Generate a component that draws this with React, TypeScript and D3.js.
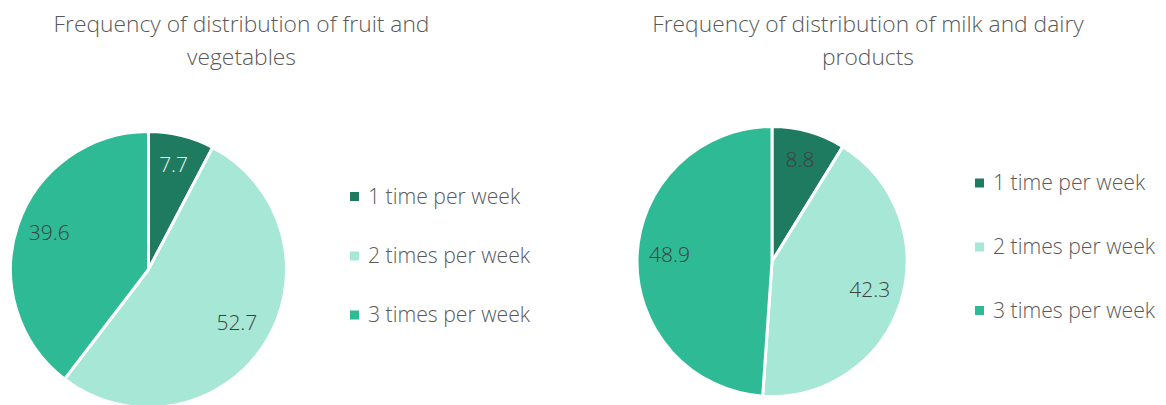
import React from "react";
import * as d3 from "d3";

const categories = ["1 time per week", "2 times per week", "3 times per week"];
const fruitValues = [7.7, 52.7, 39.6];
const dairyValues = [8.8, 42.3, 48.9];
const titles = [
  ["Frequency of distribution of fruit and", "vegetables"],
  ["Frequency of distribution of milk and dairy", "products"],
];
const colors = ["#1E7B60", "#A6E7D6", "#2EBA94"];
const labelColors = [
  ["#F2F2F2", "#404040", "#404040"],
  ["#404040", "#404040", "#404040"],
];

const FONT = "'Open Sans', sans-serif";

type PieProps = {
  values: number[];
  title: string[];
  cx: number;
  cy: number;
  r: number;
  titleX: number;
  legendX: number;
  legendYs: number[];
  labelCols: string[];
};

function Pie({ values, title, cx, cy, r, titleX, legendX, legendYs, labelCols }: PieProps) {
  const pie = d3.pie<number>().sort(null).value((d) => d)(values);
  const arc = d3.arc<d3.PieArcDatum<number>>().innerRadius(0).outerRadius(r);
  const labelArc = d3
    .arc<d3.PieArcDatum<number>>()
    .innerRadius(r * 0.76)
    .outerRadius(r * 0.76);
  return (
    <g>
      {title.map((t, i) => (
        <text
          key={i}
          x={titleX}
          y={32 + i * 33}
          textAnchor="middle"
          fontFamily={FONT}
          fontWeight={300}
          fontSize={22.8}
          fill="#595959"
        >
          {t}
        </text>
      ))}
      <g transform={`translate(${cx},${cy})`}>
        {pie.map((d, i) => (
          <path key={i} d={arc(d) || ""} fill={colors[i]} stroke="#fff" strokeWidth={3} strokeLinejoin="round" />
        ))}
        {pie.map((d, i) => {
          const [x, y] = labelArc.centroid(d);
          return (
            <text
              key={i}
              x={x}
              y={y}
              dy="0.2em"
              textAnchor="middle"
              fontFamily={FONT}
              fontWeight={300}
              fontSize={21}
              fill={labelCols[i]}
            >
              {d.data.toFixed(1)}
            </text>
          );
        })}
      </g>
      {categories.map((c, i) => (
        <g key={c} transform={`translate(${legendX},${legendYs[i]})`}>
          <rect x={0} y={-4.5} width={9} height={9} fill={colors[i]} />
          <text x={18} y={0} dy="0.35em" fontFamily={FONT} fontWeight={300} fontSize={21.2} fill="#595959">
            {c}
          </text>
        </g>
      ))}
    </g>
  );
}

export default function App() {
  return (
    <div style={{ position: "absolute", left: 0, top: 0 }}>
      <svg width={1166} height={405} style={{ display: "block", background: "#fff" }}>
        <Pie
          values={fruitValues}
          title={titles[0]}
          cx={148.5}
          cy={269.5}
          r={138}
          titleX={241.5}
          legendX={350}
          legendYs={[196.5, 256, 315]}
          labelCols={labelColors[0]}
        />
        <Pie
          values={dairyValues}
          title={titles[1]}
          cx={772}
          cy={261.5}
          r={135}
          titleX={868}
          legendX={975}
          legendYs={[183, 247, 310.5]}
          labelCols={labelColors[1]}
        />
      </svg>
    </div>
  );
}
